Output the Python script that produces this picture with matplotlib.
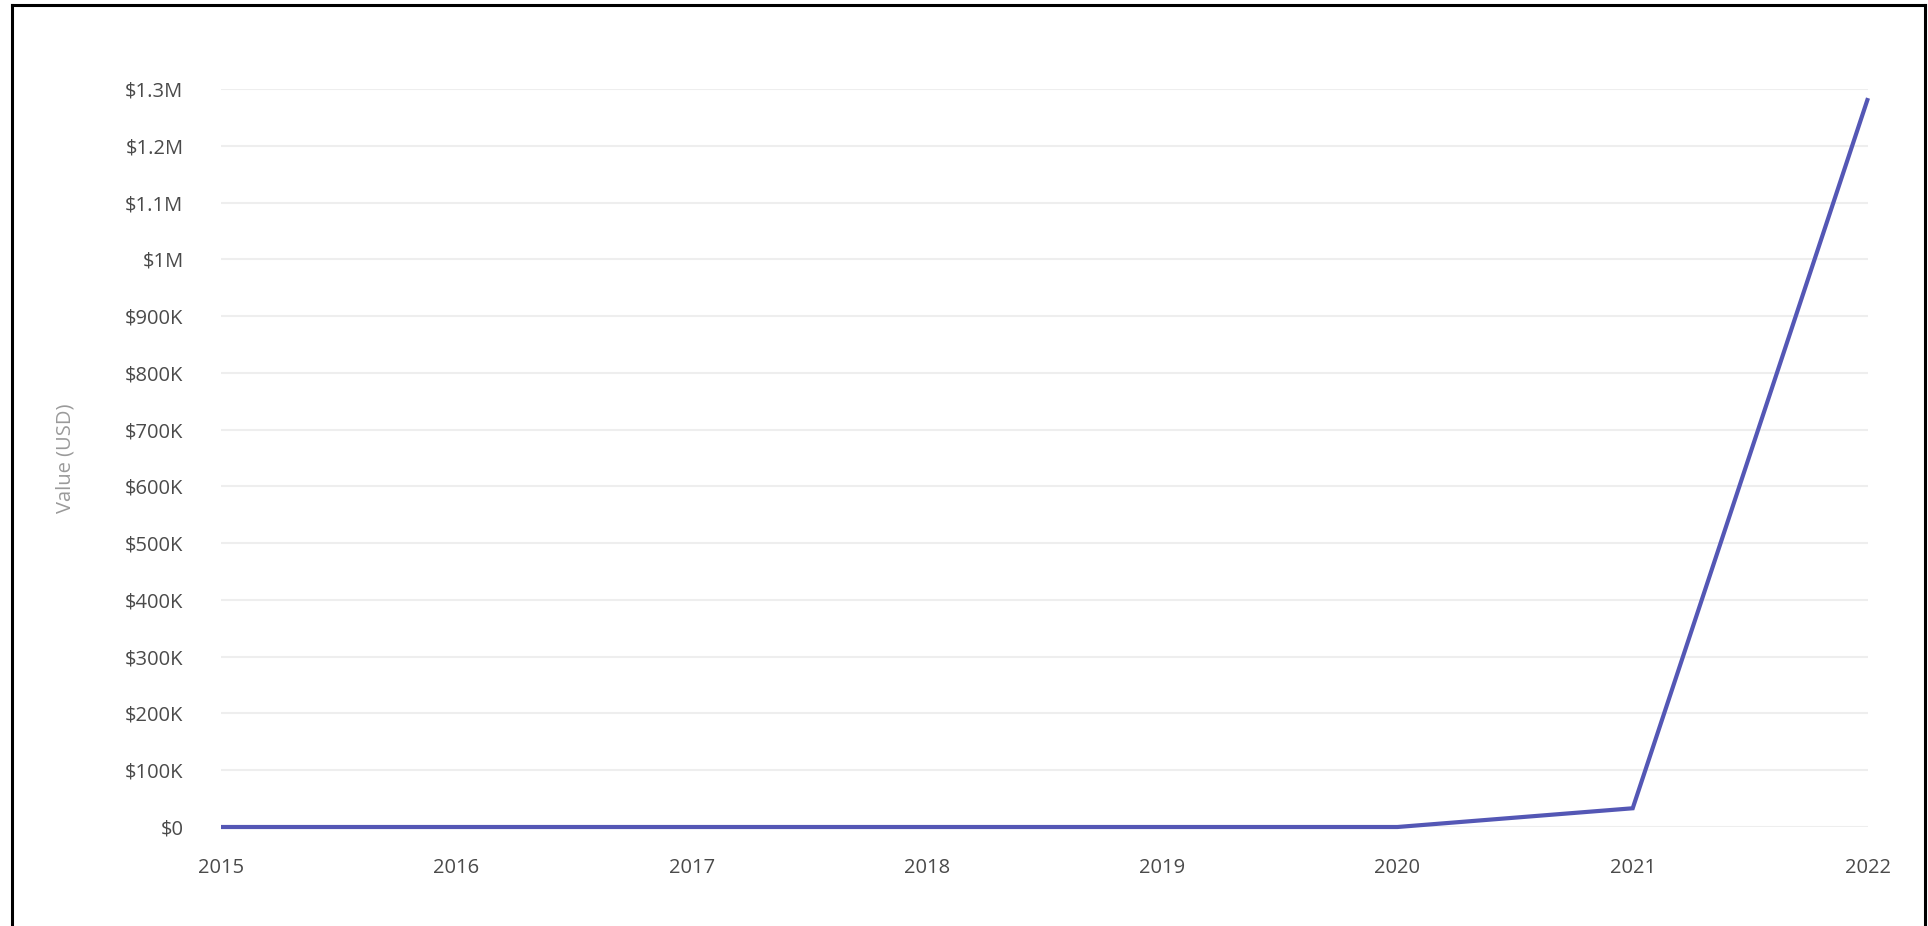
import matplotlib

matplotlib.use("Agg")
import matplotlib.pyplot as plt
from matplotlib.lines import Line2D
from matplotlib.ticker import FuncFormatter

years = [2015, 2016, 2017, 2018, 2019, 2020, 2021, 2022]
values = [0, 0, 0, 0, 0, 0, 33000, 1284000]
y_ticks = [i * 100000 for i in range(14)]

LINE = "#5457b5"
TICK = "#4a4a4a"
LABEL = "#9a9a9a"
GRID = "#eeeeee"

plt.rcParams["font.family"] = ["Open Sans", "DejaVu Sans"]


def usd(v, _pos=None):
    if v == 0:
        return "$0"
    if v >= 1e6:
        return f"${v / 1e6:g}M"
    return f"${v / 1e3:g}K"


def main():
    fig = plt.figure(figsize=(19.28, 9.26), dpi=100)
    W, H = 1928, 926
    ax = fig.add_axes([221 / W, 1 - 827 / H, (1868 - 221) / W, (827 - 89) / H])

    ax.plot(years, values, color=LINE, lw=3, solid_capstyle="butt",
            solid_joinstyle="miter", zorder=3, clip_on=False)

    ax.set_xlim(2015, 2022)
    ax.set_ylim(0, 1300000)
    ax.set_xticks(years)
    ax.set_yticks(y_ticks)
    ax.yaxis.set_major_formatter(FuncFormatter(usd))
    ax.grid(axis="y", color=GRID, lw=1.5)
    ax.set_axisbelow(True)
    for s in ax.spines.values():
        s.set_visible(False)
    ax.tick_params(axis="both", length=0, labelsize=14.5, colors=TICK)
    ax.tick_params(axis="y", pad=27)
    ax.tick_params(axis="x", pad=22)
    ax.set_ylabel("Value (USD)", fontsize=14.5, color=LABEL, labelpad=36)

    # outer frame (left, top, right edges)
    for xs, ys in [([12 / W, 12 / W], [0, 1 - 5 / H]),
                   ([12 / W, 1925 / W], [1 - 5 / H, 1 - 5 / H]),
                   ([1925 / W, 1925 / W], [0, 1 - 5 / H])]:
        fig.add_artist(Line2D(xs, ys, color="black", lw=2.2,
                              transform=fig.transFigure))

    fig.savefig("out.png", dpi=100)


if __name__ == "__main__":
    main()
